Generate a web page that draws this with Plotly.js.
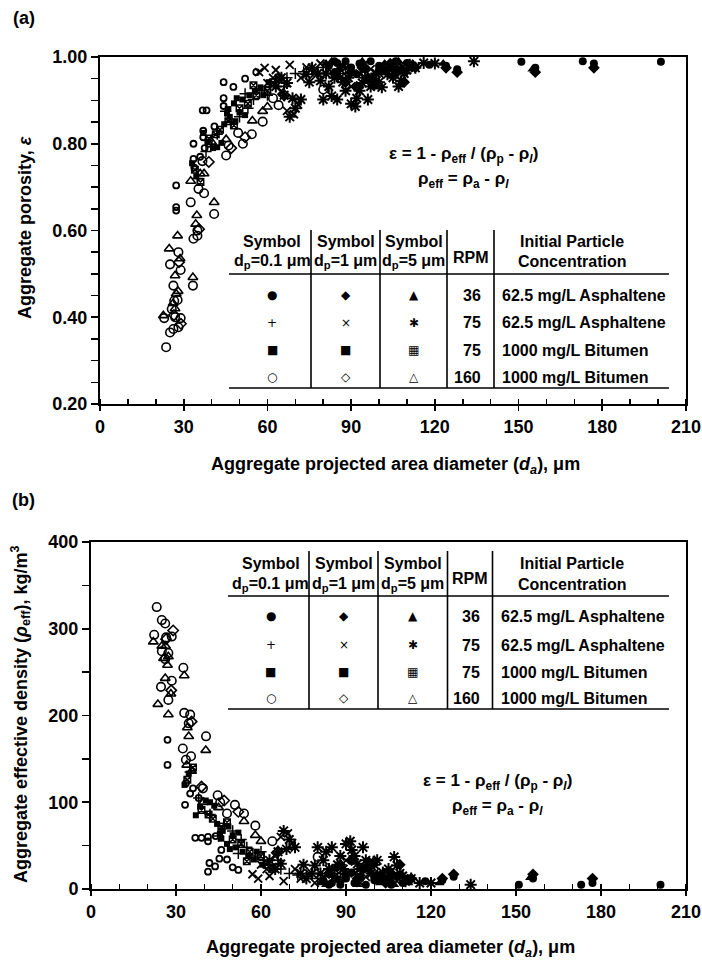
<!DOCTYPE html>
<html><head><meta charset="utf-8">
<script src="https://cdn.plot.ly/plotly-3.0.1.min.js"></script>
<style>html,body{margin:0;padding:0;background:#fff}</style>
</head><body>
<div id="chart" style="width:702px;height:969px"></div>
<script>
// ---------------- DATA ----------------
// Panel (a): aggregate porosity vs projected area diameter
const a_oc_x = [23.7,23.0,25.1,26.3,26.9,28.9,28.1,25.7,26.6,27.8,26.3,25.1,28.1,28.9,33.3,33.5,34.9,34.9,32.5,35.3,37.3,40.9,36.7,45.2,46.1,51.2,54.4,49.5,58.3,64.0,62.0,80.0];
const a_oc_y = [0.331,0.398,0.365,0.373,0.400,0.398,0.377,0.419,0.438,0.440,0.473,0.522,0.550,0.509,0.473,0.581,0.588,0.600,0.665,0.696,0.686,0.638,0.760,0.773,0.796,0.800,0.822,0.825,0.851,0.889,0.905,0.925];
const a_ot_x = [22.7,26.9,24.8,27.8,26.9,27.3,28.7,33.3,34.7,34.3,40.9,32.5,35.9,37.3,40.0,45.2,54.6,26.2,28.0,58.3,60.0];
const a_ot_y = [0.404,0.420,0.558,0.588,0.496,0.454,0.535,0.492,0.635,0.615,0.665,0.714,0.731,0.731,0.804,0.810,0.853,0.432,0.460,0.875,0.885];
const a_od_x = [26.5,29.0,28.3,35.5,39.0,47.0,52.0,66.0];
const a_od_y = [0.405,0.385,0.527,0.603,0.758,0.790,0.815,0.912];
const a_sq01_x = [27.3,27.3,27.3,33.5,33.5,35.9,36.8,38.2,44.3,47.8,44.3,44.3,37.0,37.0,37.5,39.0,52.0,56.0,33.8,41.0];
const a_sq01_y = [0.704,0.654,0.646,0.800,0.765,0.770,0.877,0.877,0.942,0.931,0.905,0.887,0.830,0.815,0.790,0.800,0.950,0.965,0.745,0.840];
const a_sq1_x = [33.0,34.5,37.0,38.5,40.5,44.5,46.5,48.5,50.0,52.0,46.0,48.0,51.0,53.5,55.5,57.5,60.5,58.5,42.0,43.5,45.5,49.0];
const a_sq1_y = [0.755,0.725,0.825,0.805,0.790,0.845,0.862,0.852,0.872,0.866,0.880,0.893,0.902,0.912,0.922,0.930,0.942,0.912,0.792,0.802,0.870,0.905];
const a_sq5_x = [34.0,36.0,39.0,43.0,46.0,50.0,53.0,56.0,60.0,62.0,64.0,48.0,41.5,55.0];
const a_sq5_y = [0.740,0.712,0.812,0.832,0.852,0.882,0.892,0.912,0.922,0.942,0.952,0.842,0.822,0.935];
const a_pl_x = [35.0,38.0,42.0,47.0,50.0,53.0,55.0,58.0,61.0,64.0,67.0,70.0,73.0,76.0,66.0,60.0,80.0,85.0,88.0,45.0,52.0];
const a_pl_y = [0.720,0.782,0.822,0.852,0.862,0.882,0.902,0.922,0.932,0.942,0.952,0.962,0.966,0.972,0.932,0.912,0.976,0.972,0.962,0.875,0.915];
const a_x_x = [57.0,62.0,65.0,67.0,69.5,71.0,74.0,77.0,82.0,86.0,90.0,93.0,97.0,100.0,104.0,108.0,72.0,68.0,59.0,60.0,63.0,79.0,84.0,88.0,95.0,102.0];
const a_x_y = [0.965,0.952,0.922,0.876,0.868,0.890,0.976,0.962,0.972,0.952,0.932,0.962,0.972,0.962,0.976,0.982,0.952,0.982,0.975,0.940,0.970,0.985,0.960,0.975,0.985,0.975];
const a_as_x = [63,66,68,70,72,75,78,80,82,84,86,88,90,91.5,93,95,97,99,102,105,107,109,111,116,134,85,87,96,65,81,89,100,74,76,79,83,92,94,98,101,103,106,108,110,113,120,67,69];
const a_as_y = [0.932,0.912,0.862,0.882,0.902,0.942,0.962,0.902,0.932,0.952,0.972,0.922,0.892,0.886,0.922,0.952,0.932,0.962,0.972,0.952,0.932,0.962,0.982,0.986,0.990,0.902,0.942,0.902,0.952,0.962,0.952,0.942,0.960,0.975,0.945,0.910,0.905,0.940,0.950,0.930,0.960,0.975,0.945,0.970,0.975,0.985,0.940,0.905];
const a_fc_x = [82,85,90,95,100,104,108,110,112,118,124,128,151,156,173,177,201,92,98,84,88,93,97,106];
const a_fc_y = [0.980,0.986,0.976,0.972,0.980,0.976,0.970,0.986,0.976,0.982,0.980,0.972,0.989,0.975,0.990,0.985,0.989,0.960,0.952,0.990,0.990,0.985,0.990,0.990];
const a_fd_x = [84,88,92,96,101,106,109,113,124,128,156,177,98,90,94,104];
const a_fd_y = [0.962,0.942,0.932,0.952,0.970,0.962,0.942,0.976,0.975,0.965,0.965,0.975,0.935,0.965,0.975,0.985];
const a_ft_x = [81,83,87,94,102,107,112,123,155,86,100];
const a_ft_y = [0.985,0.990,0.980,0.990,0.985,0.990,0.985,0.985,0.972,0.952,0.930];

// Panel (b): aggregate effective density vs projected area diameter
const b_oc_x = [23.2,25.0,26.2,22.3,28.5,26.5,25.0,27.3,26.2,24.7,28.5,27.3,32.6,32.9,35.0,34.5,32.4,33.5,35.3,40.6,39.5,44.7,45.6,50.8,54.0,58.0,64.0,48.0,80.0];
const b_oc_y = [325,310,306,293,291,290,274,272,265,233,240,218,255,203,201,191,162,149,153,176,116,108,100,97,87,73,55,87,37];
const b_ot_x = [22.0,25.0,26.3,25.6,27.3,26.2,28.2,23.6,27.3,32.9,34.0,34.5,40.5,33.8,35.5,39.7,45.0,54.0,58.0,60.0,27.0];
const b_ot_y = [285,280,280,266,268,243,225,213,201,246,186,176,160,143,136,100,94,78,62,55,258];
const b_od_x = [26.5,29.0,28.3,35.5,39.0,47.0,52.0,66.0];
const b_od_y = [288,298,229,193,118,102,89,43];
const b_sq01_x = [27.0,27.0,33.2,36.8,39.0,41.3,41.3,41.8,45.3,41.3,43.8,48.0,35.0,36.0,33.5,38.0,44.0,46.0,50.0,52.0];
const b_sq01_y = [172,143,97,59,59,60,55,30,35,20,26,34,110,116,122,105,61,45,25,22];
const b_sq1_x = [33.0,34.5,37.0,38.5,40.5,44.5,46.5,48.5,50.0,52.0,46.0,48.0,51.0,53.5,55.5,57.5,60.5,58.5,42.0,43.5,45.5,49.0];
const b_sq1_y = [120,133,85,95,102,75,67,72,62,65,58,52,48,43,38,34,28,43,100,96,64,46];
const b_sq5_x = [34.0,36.0,39.0,43.0,46.0,50.0,53.0,56.0,60.0,62.0,64.0,48.0,41.5,55.0];
const b_sq5_y = [126,140,91,81,72,57,52,43,38,28,23,77,86,32];
const b_pl_x = [35.0,38.0,42.0,47.0,50.0,53.0,55.0,58.0,61.0,64.0,67.0,70.0,73.0,76.0,66.0,60.0,80.0,85.0,88.0,45.0,52.0];
const b_pl_y = [135,105,86,72,67,57,48,38,33,28,23,18,16,14,33,43,12,14,18,61,41];
const b_x_x = [57.0,62.0,65.0,67.0,69.5,71.0,74.0,77.0,82.0,86.0,90.0,93.0,97.0,100.0,104.0,108.0,72.0,68.0,59.0,60.0,63.0,79.0,84.0,88.0,95.0,102.0];
const b_x_y = [17,23,38,60,64,53,12,18,14,23,33,18,14,18,12,9,23,9,12,28,15,7,19,12,7,12];
const b_as_x = [63,66,68,70,72,75,78,80,82,84,86,88,90,91.5,93,95,97,99,102,105,107,109,111,116,134,85,87,96,65,81,89,100,74,76,79,83,92,94,98,101,103,106,108,110,113,120,67,69];
const b_as_y = [33,43,67,57,48,28,18,48,33,23,14,38,52,55,38,23,33,18,14,23,37,18,9,7,5,48,28,48,23,18,23,28,18,12,27,43,45,29,24,33,19,12,27,15,12,7,29,46];
const b_fc_x = [82,85,90,95,100,104,108,110,112,118,124,128,151,156,173,177,201,92,98,84,88,93,97,106];
const b_fc_y = [10,7,12,14,10,12,15,7,12,9,10,14,5,12,5,7,5,19,23,5,5,7,5,5];
const b_fd_x = [84,88,92,96,101,106,109,113,124,128,156,177,98,90,94,104];
const b_fd_y = [18,28,33,23,15,18,28,12,12,17,17,12,31,17,12,7];
const b_ft_x = [81,83,87,94,102,107,112,123,155,86,100];
const b_ft_y = [7,5,10,5,7,5,7,7,13,23,34];

// Axis ticks
const xTickVals = [0,30,60,90,120,150,180,210];
const yTickValsA = [0.2,0.4,0.6,0.8,1.0];
const yTickValsB = [0,100,200,300,400];

// Table contents
const tblHeadSym = ['Symbol','Symbol','Symbol'];
const tblHeadDp = ['d<sub>p</sub>=0.1 μm','d<sub>p</sub>=1 μm','d<sub>p</sub>=5 μm'];
const tblSymbols = [['●','◆','▲'],['+','×','✱'],['■','■','▦'],['○','◇','△']];
const tblRPM = ['36','75','75','160'];
const tblConc = ['62.5 mg/L Asphaltene','62.5 mg/L Asphaltene','1000 mg/L Bitumen','1000 mg/L Bitumen'];

// ---------------- STYLES ----------------
const W = 702, H = 969;
const FONT = 'Liberation Sans, Arial, Helvetica, sans-serif';
const GLYPH = 'DejaVu Sans, Liberation Sans, sans-serif';
const WT = 'bold';
const fx = v => v / W;
const fy = v => 1 - v / H;

const series = [
  {a:[a_oc_x,a_oc_y], b:[b_oc_x,b_oc_y], sym:'circle-open', size:8.5, lw:1.6},
  {a:[a_ot_x,a_ot_y], b:[b_ot_x,b_ot_y], sym:'triangle-up-open', size:8.5, lw:1.6},
  {a:[a_od_x,a_od_y], b:[b_od_x,b_od_y], sym:'diamond-open', size:8, lw:1.6},
  {a:[a_sq01_x,a_sq01_y], b:[b_sq01_x,b_sq01_y], sym:'circle-open', size:6, lw:1.8},
  {a:[a_sq1_x,a_sq1_y], b:[b_sq1_x,b_sq1_y], sym:'square', size:6, lw:0},
  {a:[a_sq5_x,a_sq5_y], b:[b_sq5_x,b_sq5_y], sym:'square-x-open', size:6.5, lw:1.5},
  {a:[a_pl_x,a_pl_y], b:[b_pl_x,b_pl_y], sym:'cross-thin-open', size:8, lw:1.5},
  {a:[a_x_x,a_x_y], b:[b_x_x,b_x_y], sym:'x-thin-open', size:8, lw:1.8},
  {a:[a_as_x,a_as_y], b:[b_as_x,b_as_y], sym:'asterisk-open', size:10, lw:2},
  {a:[a_fc_x,a_fc_y], b:[b_fc_x,b_fc_y], sym:'circle', size:8, lw:0},
  {a:[a_fd_x,a_fd_y], b:[b_fd_x,b_fd_y], sym:'diamond', size:9, lw:0},
  {a:[a_ft_x,a_ft_y], b:[b_ft_x,b_ft_y], sym:'triangle-up', size:9, lw:0}
];

const traces = [];
series.forEach(s => {
  const mk = {symbol:s.sym, size:s.size, color:'black', line:{color:'black', width:s.lw}};
  traces.push({type:'scatter', mode:'markers', x:s.a[0], y:s.a[1], xaxis:'x', yaxis:'y', marker:mk, hoverinfo:'skip', showlegend:false});
  traces.push({type:'scatter', mode:'markers', x:s.b[0], y:s.b[1], xaxis:'x2', yaxis:'y2', marker:mk, hoverinfo:'skip', showlegend:false});
});
// empty traces to bind the overlay (crossing-tick) axes
traces.push({type:'scatter', mode:'markers', x:[], y:[], xaxis:'x3', yaxis:'y', showlegend:false});
traces.push({type:'scatter', mode:'markers', x:[], y:[], xaxis:'x4', yaxis:'y2', showlegend:false});

const tickFont = {family:FONT, size:18, color:'black', weight:WT};
function xAxis(dom, anchor) {
  return {domain:dom, anchor:anchor, range:[0,210], tickmode:'array', tickvals:xTickVals,
    ticks:'outside', ticklen:5, tickwidth:1.6, tickcolor:'black', showline:true, linewidth:2,
    linecolor:'black', mirror:true, showgrid:false, zeroline:false, tickfont:tickFont,
    minor:{dtick:10, tick0:0, ticks:'inside', ticklen:5, tickwidth:1.5, tickcolor:'black', showgrid:false},
    fixedrange:true};
}
function xOverlay(over, anchor) {
  return {overlaying:over, anchor:anchor, range:[0,210], tickmode:'array', tickvals:xTickVals,
    ticks:'inside', ticklen:5, tickwidth:1.6, tickcolor:'black', showticklabels:false,
    showline:false, showgrid:false, zeroline:false, fixedrange:true};
}

const layout = {
  width:W, height:H, margin:{l:0,r:0,t:0,b:0}, paper_bgcolor:'white', plot_bgcolor:'white',
  showlegend:false, font:{family:FONT, color:'black'},
  xaxis: xAxis([fx(100), fx(686)], 'y'),
  xaxis3: xOverlay('x', 'y'),
  yaxis: {domain:[fy(404), fy(57)], anchor:'x', range:[0.2,1.0], tickmode:'array', tickvals:yTickValsA,
    tickformat:'.2f', ticks:'outside', ticklen:7, tickwidth:1.6, tickcolor:'black', showline:true,
    linewidth:2, linecolor:'black', mirror:true, showgrid:false, zeroline:false, tickfont:tickFont,
    minor:{dtick:0.05, tick0:0.2, ticks:'outside', ticklen:7, tickwidth:1.5, tickcolor:'black', showgrid:false},
    fixedrange:true},
  xaxis2: xAxis([fx(91), fx(686)], 'y2'),
  xaxis4: xOverlay('x2', 'y2'),
  yaxis2: {domain:[fy(889), fy(542)], anchor:'x2', range:[0,400], tickmode:'array', tickvals:yTickValsB,
    ticks:'outside', ticklen:7, tickwidth:1.6, tickcolor:'black', showline:true,
    linewidth:2, linecolor:'black', mirror:true, showgrid:false, zeroline:false, tickfont:tickFont,
    minor:{dtick:50, tick0:0, ticks:'outside', ticklen:7, tickwidth:1.5, tickcolor:'black', showgrid:false},
    fixedrange:true},
  annotations:[], shapes:[]
};

function ann(text, x, y, o) {
  const a = Object.assign({text:text, x:fx(x), y:fy(y), xref:'paper', yref:'paper', showarrow:false,
    xanchor:'center', yanchor:'middle', font:{family:FONT, size:16, color:'black', weight:WT}}, o || {});
  layout.annotations.push(a);
}
function hline(x0, x1, y) {
  layout.shapes.push({type:'line', xref:'paper', yref:'paper', x0:fx(x0), x1:fx(x1), y0:fy(y), y1:fy(y), line:{color:'black', width:1.6}});
}
function vline(x, y0, y1) {
  layout.shapes.push({type:'line', xref:'paper', yref:'paper', x0:fx(x), x1:fx(x), y0:fy(y0), y1:fy(y1), line:{color:'black', width:1.6}});
}

// Panel labels and axis titles
ann('(a)', 24, 18, {font:{family:FONT, size:18, color:'black', weight:WT}});
ann('(b)', 23, 500, {font:{family:FONT, size:18, color:'black', weight:WT}});
const xTitle = 'Aggregate projected area diameter (<i>d<sub>a</sub></i>), μm';
ann(xTitle, 395, 465, {font:{family:FONT, size:18, color:'black', weight:WT}});
ann(xTitle, 390, 948, {font:{family:FONT, size:18, color:'black', weight:WT}});
ann('Aggregate porosity, <i>ε</i>', 25, 228, {textangle:-90, font:{family:FONT, size:18, color:'black', weight:WT}});
ann('Aggregate effective density (<i>ρ</i><sub>eff</sub>), kg/m<sup>3</sup>', 20, 715, {textangle:-90, font:{family:FONT, size:18, color:'black', weight:WT}});

// Equations
function equations(cx, y1, y2) {
  ann('ε = 1 - ρ<sub>eff</sub> / (ρ<sub>p</sub> - ρ<sub><i>l</i></sub>)', cx, y1, {font:{family:FONT, size:17, color:'black', weight:WT}});
  ann('ρ<sub>eff</sub> = ρ<sub>a</sub> - ρ<sub><i>l</i></sub>', cx, y2, {font:{family:FONT, size:17, color:'black', weight:WT}});
}
equations(463, 155, 180);
equations(497, 782, 807);

// Tables
function table(g) {
  g.v.forEach(x => vline(x, g.top, g.bot));
  hline(g.left, g.right, g.hl);
  hline(g.left, g.right, g.bot);
  const colC = [ (g.left + g.v[0]) / 2 + 2, (g.v[0] + g.v[1]) / 2, (g.v[1] + g.v[2]) / 2 ];
  colC.forEach((c, i) => {
    ann(tblHeadSym[i], c, g.h1);
    ann(tblHeadDp[i], c, g.h2);
  });
  ann('RPM', (g.v[2] + g.v[3]) / 2, (g.h1 + g.h2) / 2 + 5);
  ann('Initial Particle', 572, g.h1);
  ann('Concentration', 572, g.h2);
  g.rows.forEach((ry, r) => {
    tblSymbols[r].forEach((sym, i) => {
      ann(sym, colC[i], ry, {font:{family:GLYPH, size:12, color:'black'}});
    });
    ann(tblRPM[r], g.v[3] - 11, ry, {xanchor:'right'});
    ann(tblConc[r], g.v[3] + 6, ry, {xanchor:'left'});
  });
}
table({left:229, right:669, v:[311,380,447,494], top:230, bot:388, hl:274, h1:242, h2:262, rows:[295,323,350,377]});
table({left:228, right:669, v:[309,378,447.5,492.5], top:551, bot:709, hl:596, h1:563, h2:584, rows:[616,645,672,698]});

Plotly.newPlot('chart', traces, layout, {displayModeBar:false, staticPlot:true});
</script>
</body></html>
